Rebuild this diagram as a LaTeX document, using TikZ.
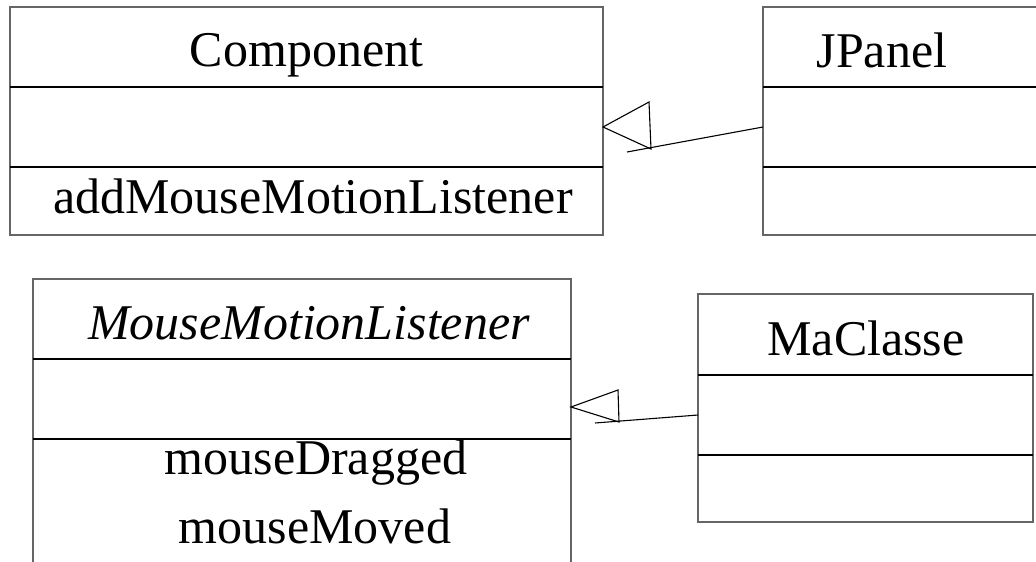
\documentclass[tikz,border=0pt]{standalone}
\usepackage{fontspec}
\setmainfont{Liberation Serif}
\begin{document}
\begin{tikzpicture}[x=1pt,y=-1pt,
  classbox/.style={draw=black!60,line width=1.2pt,inner sep=0pt,outer sep=0pt},
  divider/.style={draw=black,line width=1.2pt},
  label/.style={anchor=base,inner sep=0pt,font=\fontsize{50}{60}\selectfont},
  link/.style={draw=black,line width=1.1pt},
  hollowtip/.style={draw=black,line width=1.1pt,line join=miter}]
\useasboundingbox (0,0) rectangle (1036,562);
\clip (0,0) rectangle (1036,562);

% class boxes
\node[classbox,minimum width=593pt,minimum height=228pt] (comp) at (306.5,121) {};
\node[classbox,minimum width=300pt,minimum height=228pt] (jp) at (913,121) {};
\node[classbox,minimum width=538pt,minimum height=330pt] (mml) at (302,444) {};
\node[classbox,minimum width=335pt,minimum height=228pt] (ma) at (865.5,408) {};

% compartment dividers
\draw[divider] (comp.west |- 0,87) -- (comp.east |- 0,87);
\draw[divider] (comp.west |- 0,167) -- (comp.east |- 0,167);
\draw[divider] (jp.west |- 0,87) -- (jp.east |- 0,87);
\draw[divider] (jp.west |- 0,167) -- (jp.east |- 0,167);
\draw[divider] (mml.west |- 0,359) -- (mml.east |- 0,359);
\draw[divider] (mml.west |- 0,439) -- (mml.east |- 0,439);
\draw[divider] (ma.west |- 0,375) -- (ma.east |- 0,375);
\draw[divider] (ma.west |- 0,455) -- (ma.east |- 0,455);

% texts
\node[label] (compname) at (306.5,66) {Component};
\node[label] (compop) at (313,213) {addMouseMotionListener};
\node[label] (jpname) at (882,67) {JPanel};
\node[label] (mmlname) at (309,339) {\itshape MouseMotionListener};
\node[label] (mmlop1) at (316,474) {mouseDragged};
\node[label] (mmlop2) at (315,543) {mouseMoved};
\node[label] (maname) at (866,355) {MaClasse};

% JPanel extends Component
\coordinate (tipA) at (comp.east |- 0,127);
\coordinate (endA) at (627,152);
\draw[hollowtip] (tipA) -- (649,102) -- (651,149) -- cycle;
\draw[link] (jp.west |- tipA) -- (endA);

% MaClasse implements MouseMotionListener
\coordinate (tipB) at (mml.east |- 0,407);
\coordinate (endB) at (595,423);
\draw[hollowtip] (tipB) -- (618,390) -- (619,422) -- cycle;
\draw[link] (ma.west |- 0,415) -- (endB);
\end{tikzpicture}
\end{document}
